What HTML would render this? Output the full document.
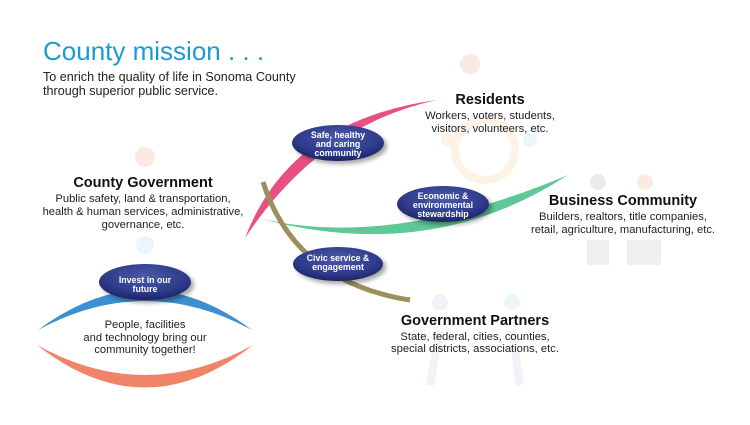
<!DOCTYPE html>
<html><head><meta charset="utf-8"><style>
html,body{margin:0;padding:0;background:#fff;}
svg{display:block;font-family:"Liberation Sans",sans-serif;}
.h{font-weight:bold;font-size:14.5px;fill:#111;text-anchor:middle;}
.s{font-size:11.2px;fill:#222;text-anchor:middle;}
.e{font-weight:bold;font-size:8.8px;fill:#fff;text-anchor:middle;}
</style></head><body>
<svg width="750" height="425" viewBox="0 0 750 425">
<defs>
<radialGradient id="g" cx="50%" cy="35%" r="65%">
<stop offset="0" stop-color="#4a5aa8"/><stop offset="0.7" stop-color="#2e3a8a"/><stop offset="1" stop-color="#1c2465"/>
</radialGradient>
<filter id="sh" x="-30%" y="-30%" width="160%" height="180%"><feDropShadow dx="3" dy="3" stdDeviation="2" flood-color="#000" flood-opacity="0.35"/></filter>
</defs>
<!-- faint icons -->
<g opacity="0.3">
<circle cx="145" cy="157" r="10" fill="#f4b7a8"/>
<circle cx="145" cy="245" r="9" fill="#bfe3ef"/>
<circle cx="470" cy="64" r="10" fill="#f4b7a8"/>
<circle cx="485" cy="150" r="30" fill="none" stroke="#f7d7b0" stroke-width="8"/>
<circle cx="530" cy="140" r="7" fill="#bfe3ef"/>
<circle cx="448" cy="140" r="7" fill="#f7d7b0"/>
<circle cx="598" cy="182" r="8" fill="#bbb"/>
<circle cx="645" cy="182" r="8" fill="#f4b7a8"/>
<rect x="587" y="240" width="22" height="25" fill="#ccc"/>
<rect x="627" y="240" width="34" height="25" fill="#ccc"/>
<circle cx="440" cy="302" r="8" fill="#d8d0e8"/>
<circle cx="512" cy="302" r="8" fill="#bfe3ef"/>
<path d="M440 330 L430 385 M512 330 L520 385" stroke="#d8d0e8" stroke-width="8"/>
</g>
<text x="43" y="60" font-size="26" fill="#1a9ad6">County mission . . .</text>
<text x="43" y="81" font-size="12.6" fill="#222">To enrich the quality of life in Sonoma County</text>
<text x="43" y="95" font-size="12.6" fill="#222">through superior public service.</text>
<!-- arcs -->
<path d="M245,238 Q290,120 437,100 Q320,125 245,238Z" fill="#e8517f"/>
<path d="M258,218 Q390,250 568,175 Q430,265 258,218Z" fill="#5ec896"/>
<path d="M263,182 Q295,282 410,300" fill="none" stroke="#9c8f5c" stroke-width="5"/>
<path d="M38,330 Q145,250 252,330 Q145,272 38,330Z" fill="#3d8fd0"/>
<path d="M37,345 Q145,430 253,345 Q145,405 37,345Z" fill="#f08468"/>
<!-- ovals -->
<g filter="url(#sh)">
<ellipse cx="338" cy="143" rx="46" ry="18" fill="url(#g)"/>
<ellipse cx="443" cy="204" rx="46" ry="18" fill="url(#g)"/>
<ellipse cx="338" cy="264" rx="45" ry="17" fill="url(#g)"/>
<ellipse cx="145" cy="282" rx="46" ry="18" fill="url(#g)"/>
</g>
<text class="e" x="338" y="138">Safe, healthy</text>
<text class="e" x="338" y="147">and caring</text>
<text class="e" x="338" y="156">community</text>
<text class="e" x="443" y="199">Economic &amp;</text>
<text class="e" x="443" y="208">environmental</text>
<text class="e" x="443" y="217">stewardship</text>
<text class="e" x="338" y="261">Civic service &amp;</text>
<text class="e" x="338" y="270">engagement</text>
<text class="e" x="145" y="283">Invest in our</text>
<text class="e" x="145" y="292">future</text>
<!-- texts -->
<text class="h" x="490" y="104">Residents</text>
<text class="s" x="490" y="119">Workers, voters, students,</text>
<text class="s" x="490" y="132">visitors, volunteers, etc.</text>
<text class="h" x="143" y="187">County Government</text>
<text class="s" x="143" y="202">Public safety, land &amp; transportation,</text>
<text class="s" x="143" y="215">health &amp; human services, administrative,</text>
<text class="s" x="143" y="228">governance, etc.</text>
<text class="h" x="623" y="205">Business Community</text>
<text class="s" x="623" y="220">Builders, realtors, title companies,</text>
<text class="s" x="623" y="233">retail, agriculture, manufacturing, etc.</text>
<text class="h" x="475" y="325">Government Partners</text>
<text class="s" x="475" y="340">State, federal, cities, counties,</text>
<text class="s" x="475" y="352">special districts, associations, etc.</text>
<text class="s" x="145" y="328">People, facilities</text>
<text class="s" x="145" y="341">and technology bring our</text>
<text class="s" x="145" y="353">community together!</text>
</svg>
</body></html>
